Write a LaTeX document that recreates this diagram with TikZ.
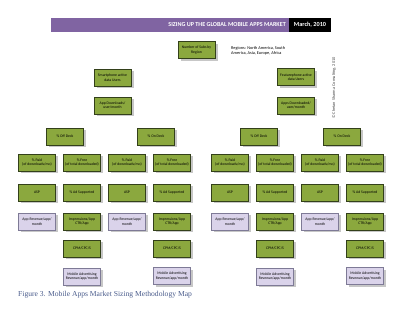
\documentclass[tikz,border=0pt]{standalone}
\usepackage{fontspec}
\setmainfont{Carlito}
\newfontfamily\capfont{Liberation Serif}
\usetikzlibrary{shadows}
\definecolor{gfill}{HTML}{8BA83E}
\definecolor{gline}{HTML}{33401A}
\definecolor{lfill}{HTML}{DAD3EA}
\definecolor{lline}{HTML}{7E7A96}
\definecolor{hpurple}{HTML}{8064A2}
\definecolor{capblue}{HTML}{4A5C8C}
\begin{document}
\begin{tikzpicture}[x=1pt,y=-1pt,
 box/.style={minimum width=37pt,minimum height=17pt,inner sep=0.5pt,align=center,line width=0.7pt,
   font=\fontsize{3.8}{4.4}\selectfont,
   drop shadow={opacity=1,fill=black!22,shadow xshift=2.5pt,shadow yshift=-2.5pt}},
 gbox/.style={box,draw=gline,fill=gfill},
 lbox/.style={box,draw=lline,fill=lfill},
 small/.style={inner sep=0,font=\fontsize{4.3}{5}\selectfont}]
\useasboundingbox (0,0) rectangle (400,312);
\fill[white] (0,0) rectangle (400,312);
% header
\node[fill=hpurple,minimum width=238pt,minimum height=14pt,inner sep=0] (bar) at (170,25) {};
\node[fill=black,minimum width=42pt,minimum height=14pt,inner sep=0] (datebox) at (310,25) {};
\node[anchor=east,text=white,inner sep=0,font=\bfseries\fontsize{6.1}{7}\selectfont] (title) at (286,25) {SIZING UP THE GLOBAL MOBILE APPS MARKET};
\node[text=white,inner sep=0,font=\bfseries\fontsize{6.2}{7}\selectfont] (date) at (310,25) {March, 2010};
% top
\node[gbox] (subs) at (196.5,50) {Number of Subs by\\Region};
\node[small,anchor=north west,align=left] (regions) at (231,46.5) {Regions: North America, South\\America, Asia, Europe, Africa};
\node[small,rotate=90,text=black!70] (copy) at (334,88) {© Chetan Sharma Consulting, 2010};
% left group
\node[gbox] (smart) at (112.5,77.5) {Smartphone active\\data Users};
\node[gbox] (Ldl) at (112.5,105.5) {App Downloads/\\user/month};
\node[gbox] (Loff) at (65,136.5) {\% Off Deck};
\node[gbox] (Lon) at (156,136.5) {\% On Deck};
% right group
\node[gbox] (feat) at (296,77) {Featurephone active\\data Users};
\node[gbox] (Rdl) at (296,105.5) {Apps Downloaded/\\user/month};
\node[gbox] (Roff) at (259,136.5) {\% Off Deck};
\node[gbox] (Ron) at (342,136.5) {\% On Deck};
% columns
\foreach \g/\a/\b/\c/\d in {L/37/82/127/172, R/230/275/320/365} {
  \node[gbox] (\g-paidA) at (\a,162.5) {\% Paid\\(of downloads/mo)};
  \node[gbox] (\g-freeA) at (\b,162.5) {\% Free\\(of total downloaded)};
  \node[gbox] (\g-paidB) at (\c,162.5) {\% Paid\\(of downloads/mo)};
  \node[gbox] (\g-freeB) at (\d,162.5) {\% Free\\(of total downloaded)};
  \node[gbox] (\g-aspA) at (\a,192.5) {ASP};
  \node[gbox] (\g-adA) at (\b,192.5) {\% Ad Supported};
  \node[gbox] (\g-aspB) at (\c,192.5) {ASP};
  \node[gbox] (\g-adB) at (\d,192.5) {\% Ad Supported};
  \node[lbox] (\g-revA) at (\a,221.5) {App Revenue/app/\\month};
  \node[gbox] (\g-impA) at (\b,221.5) {Impressions/App\\CTR/App};
  \node[lbox] (\g-revB) at (\c,221.5) {App Revenue/app/\\month};
  \node[gbox] (\g-impB) at (\d,221.5) {Impressions/App\\CTR/App};
  \node[gbox] (\g-cpmA) at (\b,248.5) {CPM/CPC/S};
  \node[gbox] (\g-cpmB) at (\d,248.5) {CPM/CPC/S};
  \node[lbox] (\g-mobA) at (\b,276.5) {Mobile Advertising\\Revenue/app/month};
  \node[lbox] (\g-mobB) at (\d,276) {Mobile Advertising\\Revenue/app/month};
}
% caption
\node[anchor=base west,inner sep=0,text=capblue,font=\capfont\fontsize{7.6}{8}\selectfont] (cap) at (18,297) {Figure 3. Mobile Apps Market Sizing Methodology Map};
\end{tikzpicture}
\end{document}
